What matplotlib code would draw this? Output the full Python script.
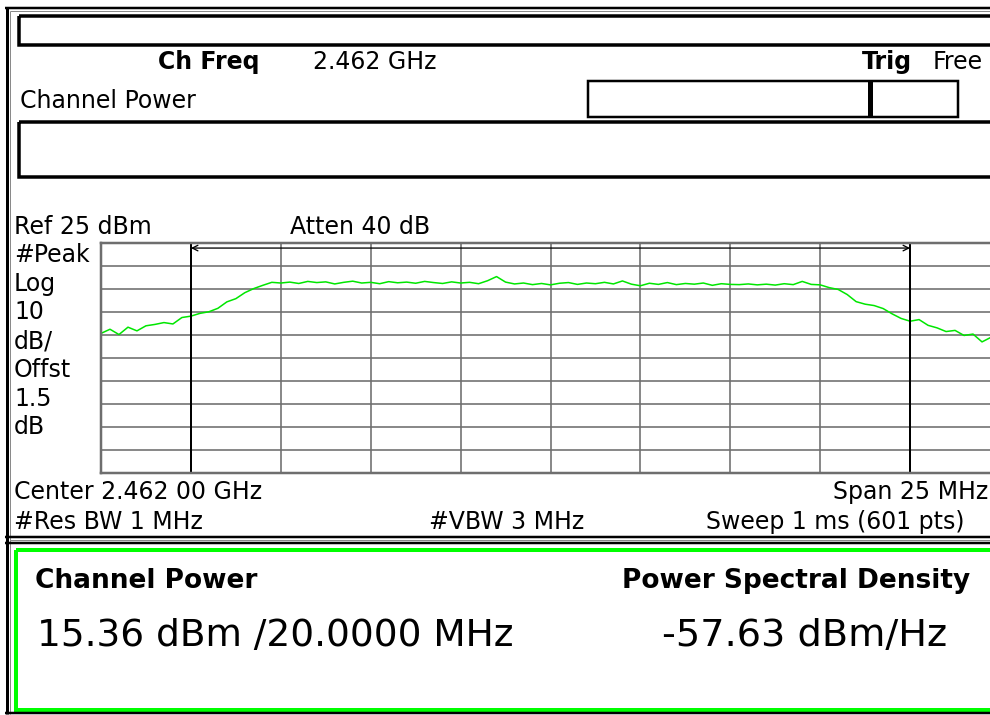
import numpy as np
import matplotlib
matplotlib.use("Agg")
import matplotlib.pyplot as plt
from matplotlib.patches import Rectangle

# Analyzer settings shown on screen
center_mhz = 2462.0
span_mhz = 25.0
ref_dbm = 25
db_per_div = 10
chan_lo_mhz = 2452.0
chan_hi_mhz = 2472.0

# Trace, 0.25 MHz steps from 2449.5 to 2474.5 MHz (dBm)
trace_dbm = [
    -14.3, -12.5, -14.8, -11.6, -13.2, -11.0, -10.4, -9.6, -10.2, -7.4,
    -6.8, -5.6, -4.9, -3.4, -0.6, 0.8, 3.4, 5.2, 6.6, 7.9,
    7.6, 8.0, 7.4, 8.3, 7.8, 8.1, 7.2, 7.9, 8.4, 7.6,
    7.9, 7.3, 8.2, 7.7, 8.0, 7.5, 8.3, 7.8, 7.4, 8.1,
    7.6, 7.9, 7.3, 8.6, 10.4, 8.0, 7.2, 7.6, 6.9, 7.4,
    6.8, 7.5, 7.8, 7.0, 7.6, 7.3, 7.9, 7.2, 8.5, 7.1,
    6.4, 7.5, 7.0, 7.8, 6.9, 7.4, 7.1, 7.6, 6.6, 7.3,
    7.0, 6.9, 7.2, 6.8, 7.1, 6.7, 7.3, 6.9, 8.3, 7.0,
    6.8, 5.6, 4.8, 2.6, -0.5, -1.6, -2.2, -3.5, -5.8, -7.8,
    -9.0, -8.3, -10.8, -11.9, -13.5, -13.0, -15.2, -14.6, -18.0, -16.0,
    -16.8,
]

# Readouts
ch_freq_text = "2.462 GHz"
left_labels = ["#Peak", "Log", "10", "dB/", "Offst", "1.5", "dB"]
chan_power_text = "15.36 dBm /20.0000 MHz"
psd_text = "-57.63 dBm/Hz"

W, H = 990, 715
fig = plt.figure(figsize=(W / 100, H / 100), dpi=100)
fig.patch.set_facecolor("white")

# full-figure overlay in pixel units for frames and annotation text
bg = fig.add_axes([0, 0, 1, 1])
bg.set_xlim(0, W)
bg.set_ylim(H, 0)
bg.axis("off")

PX = 72 / 100  # points per pixel
small = 17
grey = "#8a8a8a"


def rect(x0, y0, x1, y1, lw, color="black"):
    bg.add_patch(Rectangle((x0, y0), x1 - x0, y1 - y0, fill=False,
                           lw=lw * PX, edgecolor=color, joinstyle="miter"))


def hline(y, x0, x1, lw, color="black"):
    bg.plot([x0, x1], [y, y], color=color, lw=lw * PX, solid_capstyle="butt")


def vline(x, y0, y1, lw, color="black"):
    bg.plot([x, x], [y0, y1], color=color, lw=lw * PX, solid_capstyle="butt")


# outer frame
vline(6.5, 7, 714, 3)
vline(10, 11, 714, 1, grey)
hline(8, 5, W + 5, 2.5)
hline(11, 10, W + 5, 1, grey)
hline(713, 5, W + 5, 2.5)

# top boxes
rect(19, 15.5, W + 20, 44.5, 3.5)
rect(18.5, 122, W + 20, 177, 3.5)
rect(588, 81, 958, 116.5, 2.5)
vline(870, 81, 116.5, 5)

# separator between screen and result panel
hline(537, 5, W + 5, 2.5)
hline(540, 10, W + 5, 1, grey)
hline(543, 5, W + 5, 2.5)
rect(15.5, 549.5, W + 20, 709.5, 4, "#00ff00")

txt = dict(fontsize=small, va="baseline", color="black")
bold = dict(fontsize=small, va="baseline", color="black", fontweight="bold")

bg.text(158, 69, "Ch Freq", **bold)
bg.text(313, 69, ch_freq_text, **txt)
bg.text(862, 69, "Trig", **bold)
bg.text(933, 69, "Free", **txt)
bg.text(20, 108, "Channel Power", **txt)

bg.text(14, 234, "Ref %d dBm" % ref_dbm, **txt)
bg.text(290, 234, "Atten 40 dB", **txt)
for i, lab in enumerate(left_labels):
    bg.text(14, 262 + i * 28.7, lab, **txt)

bg.text(14, 499, "Center 2.462 00 GHz", **txt)
bg.text(988, 499, "Span %d MHz" % span_mhz, ha="right", **txt)
bg.text(14, 529, "#Res BW 1 MHz", **txt)
bg.text(429, 529, "#VBW 3 MHz", **txt)
bg.text(706, 529, "Sweep 1 ms (601 pts)", **txt)

bg.text(35, 588, "Channel Power", fontsize=19, fontweight="bold", va="baseline")
bg.text(622, 588, "Power Spectral Density", fontsize=19, fontweight="bold", va="baseline")
bg.text(37, 646, chan_power_text, fontsize=27, va="baseline")
bg.text(662, 646, psd_text, fontsize=27.5, va="baseline")

# spectrum graticule, right edge runs past the picture
gx0, gx1, gy0, gy1 = 101, 1000, 243, 473
ax = fig.add_axes([gx0 / W, 1 - gy1 / H, (gx1 - gx0) / W, (gy1 - gy0) / H])
f_lo = center_mhz - span_mhz / 2
f_hi = center_mhz + span_mhz / 2
ax.set_xlim(f_lo, f_hi)
ax.set_ylim(ref_dbm - 10 * db_per_div, ref_dbm)
ax.set_xticks(np.linspace(f_lo, f_hi, 11))
ax.set_yticks(np.linspace(ref_dbm - 10 * db_per_div, ref_dbm, 11))
ax.tick_params(length=0, labelbottom=False, labelleft=False)
ax.grid(True, color="#6e6e6e", lw=1.6 * PX)
for s in ax.spines.values():
    s.set_color("#6e6e6e")
    s.set_linewidth(2.5 * PX)
ax.set_facecolor("white")

freqs = np.linspace(f_lo, f_hi, len(trace_dbm))
ax.plot(freqs, trace_dbm, color="#00e600", lw=1.1)

for f in (chan_lo_mhz, chan_hi_mhz):
    ax.axvline(f, color="black", lw=2 * PX)
ax.annotate("", xy=(chan_lo_mhz, 22.8), xytext=(chan_hi_mhz, 22.8),
            arrowprops=dict(arrowstyle="<->", color="black", lw=1.3 * PX,
                            shrinkA=0, shrinkB=0, mutation_scale=10))

fig.savefig("out.png", dpi=100)
